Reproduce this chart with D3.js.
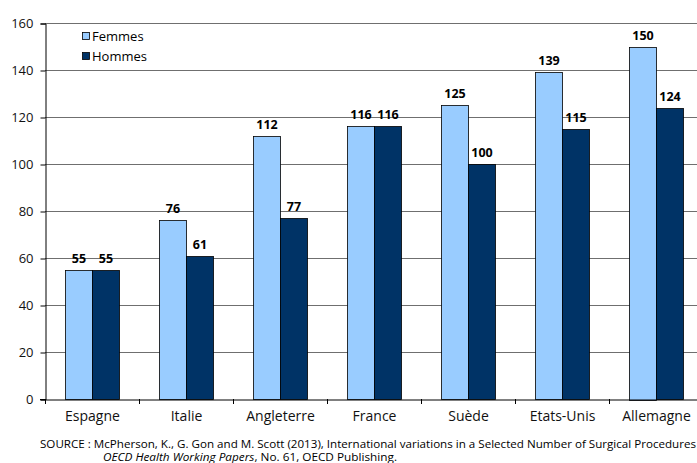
<!DOCTYPE html>
<html><head><meta charset="utf-8">
<script src="https://cdn.jsdelivr.net/npm/d3@7"></script>
<style>body{margin:0;background:#fff}svg{display:block}text{font-family:"Open Sans","DejaVu Sans",sans-serif}</style>
</head><body>
<svg id="c" width="697" height="463"></svg>
<script>
const categories = ["Espagne","Italie","Angleterre","France","Suède","Etats-Unis","Allemagne"];
const femmes = [55,76,112,116,125,139,150];
const hommes = [55,61,77,116,100,115,124];
const seriesNames = ["Femmes","Hommes"];
const colors = ["#99CCFF","#003366"];
const yTicks = [0,20,40,60,80,100,120,140,160];

(function(){
const svg = d3.select("#c");
const FONT = "Open Sans, DejaVu Sans, sans-serif";
const pLeft = 45, pRight = 703, pTop = 23, pBottom = 399;
const x = d3.scaleBand().domain(categories).range([pLeft, pRight]).paddingInner(0).paddingOuter(0);
const y = d3.scaleLinear().domain([0,160]).range([pBottom, pTop]);
const bw = x.bandwidth();
const barW = bw * 0.287;

// gridlines
svg.append("g").selectAll("line").data(yTicks.filter(d=>d>0)).join("line")
  .attr("x1", pLeft).attr("x2", pRight)
  .attr("y1", d=>Math.round(y(d))+0.5).attr("y2", d=>Math.round(y(d))+0.5)
  .attr("stroke", "#6f6f6f").attr("stroke-width",1);

// y axis
const yAxis = d3.axisLeft(y).tickValues(yTicks).tickSize(5).tickPadding(7);
const gy = svg.append("g").attr("transform",`translate(${pLeft+0.5},0.5)`).call(yAxis);
gy.select(".domain").attr("stroke","#000");
gy.selectAll(".tick line").attr("stroke","#000");
gy.selectAll("text").attr("font-size",13).attr("fill","#111").style("font-family",FONT);

// bars
const data = categories.map((c,i)=>({c, v:[femmes[i], hommes[i]]}));
const gb = svg.append("g");
data.forEach(d=>{
  const cx = x(d.c) + bw/2;
  d.v.forEach((v,j)=>{
    const x0 = j===0 ? cx - barW : cx;
    gb.append("rect").attr("x", Math.round(x0)+0.5).attr("y", Math.round(y(v))+0.5)
      .attr("width", Math.round(barW)).attr("height", Math.round(pBottom - y(v)))
      .attr("fill", colors[j]).attr("stroke","#000").attr("stroke-width",0.8);
    gb.append("text").attr("x", x0 + barW/2 + 0.5).attr("y", y(v) - 7)
      .attr("text-anchor","middle").attr("font-size",12.5).attr("font-weight","bold")
      .style("font-family",FONT).text(v);
  });
});

// x axis
const xAxis = d3.axisBottom(x).tickSize(0).tickPadding(12);
const gx = svg.append("g").attr("transform",`translate(0.5,${pBottom+0.5})`).call(xAxis);
gx.select(".domain").attr("stroke","#000");
gx.selectAll("text").attr("font-size",14).attr("fill","#111").style("font-family",FONT);
svg.append("g").selectAll("line").data(categories).join("line")
  .attr("x1", d=>Math.round(x(d))+0.5).attr("x2", d=>Math.round(x(d))+0.5)
  .attr("y1", pBottom).attr("y2", pBottom+5).attr("stroke","#000");
svg.append("line").attr("x1",pLeft-5).attr("x2",pLeft).attr("y1",pBottom+0.5).attr("y2",pBottom+0.5).attr("stroke","#000");

// legend
const lg = svg.append("g");
seriesNames.forEach((n,i)=>{
  lg.append("rect").attr("x",82.5).attr("y",32.5+i*20).attr("width",7).attr("height",7)
    .attr("fill",colors[i]).attr("stroke","#000").attr("stroke-width",0.8);
  lg.append("text").attr("x",92).attr("y",41+i*20).attr("font-size",13).style("font-family",FONT).text(n);
});

// source
svg.append("text").attr("x",40).attr("y",448).attr("font-size",10.5)
  .attr("textLength",656).attr("lengthAdjust","spacingAndGlyphs").style("font-family",FONT)
  .text("SOURCE : McPherson, K., G. Gon and M. Scott (2013), International variations in a Selected Number of Surgical Procedures");
const t2 = svg.append("text").attr("x",103).attr("y",461).attr("font-size",10.5).style("font-family",FONT)
  .attr("textLength",294).attr("lengthAdjust","spacingAndGlyphs");
t2.append("tspan").attr("font-style","italic").text("OECD Health Working Papers");
t2.append("tspan").text(", No. 61, OECD Publishing.");
})();
</script>
</body></html>
